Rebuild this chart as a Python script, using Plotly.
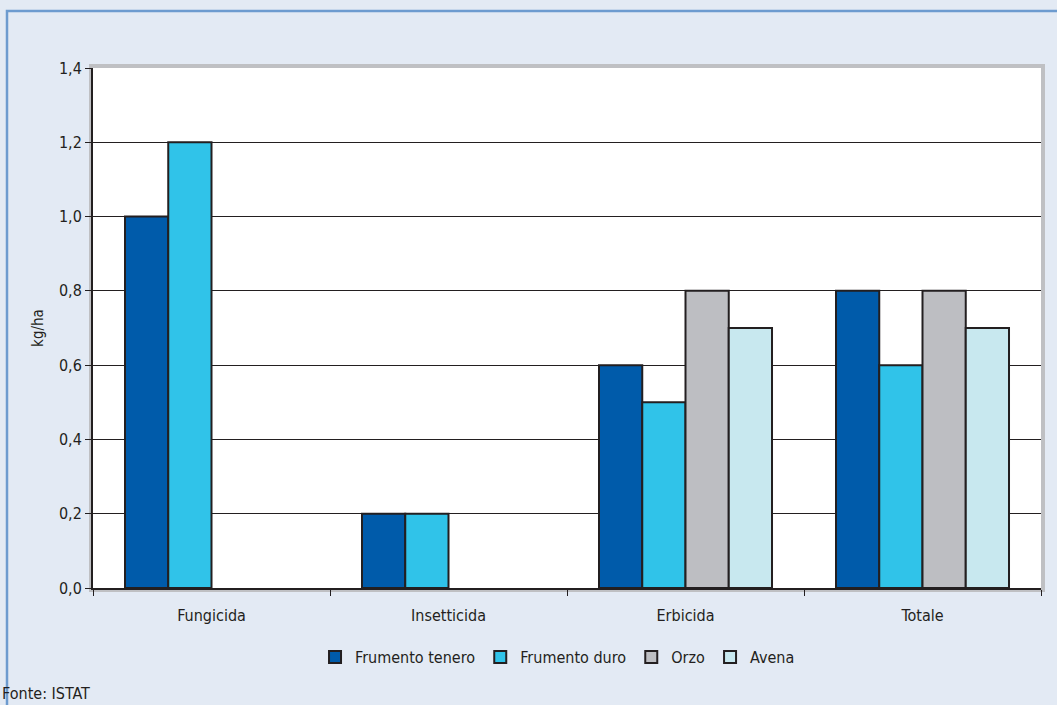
import plotly.graph_objects as go

categories = ["Fungicida", "Insetticida", "Erbicida", "Totale"]
series_names = ["Frumento tenero", "Frumento duro", "Orzo", "Avena"]
frumento_tenero = [1.0, 0.2, 0.6, 0.8]
frumento_duro = [1.2, 0.2, 0.5, 0.6]
orzo = [None, None, 0.8, 0.8]
avena = [None, None, 0.7, 0.7]
y_ticks = [0.0, 0.2, 0.4, 0.6, 0.8, 1.0, 1.2, 1.4]
y_tick_labels = ["0,0", "0,2", "0,4", "0,6", "0,8", "1,0", "1,2", "1,4"]

colors = ["#005BAA", "#30C3E9", "#BDBEC2", "#C8E8EF"]
FONT = "Liberation Sans Narrow, Arial Narrow, DejaVu Sans Condensed, sans-serif"

W, H = 1057, 705
L, R, T, B = 93, 16, 68, 117
pw, ph = W - L - R, H - T - B


def px_x(p):
    return (p - L) / pw


def px_y(p):
    return (H - B - p) / ph


fig = go.Figure()
for name, vals, col in zip(series_names, [frumento_tenero, frumento_duro, orzo, avena], colors):
    fig.add_trace(go.Bar(
        x=categories, y=vals, name=name,
        marker=dict(color=col, line=dict(color="#231F20", width=2)),
    ))

shapes = [
    # outer panel frame
    dict(type="rect", xref="paper", yref="paper", layer="below",
         x0=px_x(7), x1=px_x(1070), y0=px_y(720), y1=px_y(11),
         line=dict(color="#6D9BCF", width=2.5), fillcolor="rgba(0,0,0,0)"),
    # grey rim around the plotting area
    dict(type="rect", xref="paper", yref="paper", layer="below",
         x0=px_x(91), x1=px_x(1043), y0=px_y(590), y1=px_y(66),
         line=dict(color="#BFC0C3", width=4), fillcolor="white"),
]

fig.update_layout(
    width=W, height=H,
    margin=dict(l=L, r=R, t=T, b=B),
    paper_bgcolor="#E3EAF4",
    plot_bgcolor="white",
    barmode="group",
    bargap=0.27,
    bargroupgap=0,
    font=dict(family=FONT, size=16, color="#231F20"),
    shapes=shapes,
    showlegend=True,
    legend=dict(orientation="h", x=0.49, xanchor="center", y=-0.10, yanchor="top",
                font=dict(family=FONT, size=16, color="#231F20"),
                bgcolor="rgba(0,0,0,0)", itemwidth=30, traceorder="normal"),
    annotations=[dict(text="Fonte: ISTAT", xref="paper", yref="paper",
                      x=px_x(0), y=px_y(693), xanchor="left", yanchor="middle",
                      showarrow=False, font=dict(family=FONT, size=16, color="#231F20"))],
)

fig.update_xaxes(
    showline=True, linecolor="#231F20", linewidth=2,
    ticks="outside", tickson="boundaries", ticklen=6, tickcolor="#231F20",
    showgrid=False, tickfont=dict(size=16), mirror=False,
    ticklabelstandoff=12,
)
fig.update_yaxes(
    range=[0, 1.4], tickvals=y_ticks, ticktext=y_tick_labels,
    showline=True, linecolor="#231F20", linewidth=2,
    ticks="outside", ticklen=6, tickcolor="#231F20",
    showgrid=True, gridcolor="#231F20", gridwidth=1,
    zeroline=False, tickfont=dict(size=16),
    title=dict(text="kg/ha", font=dict(size=15), standoff=12),
)

fig.write_html("out.html")
